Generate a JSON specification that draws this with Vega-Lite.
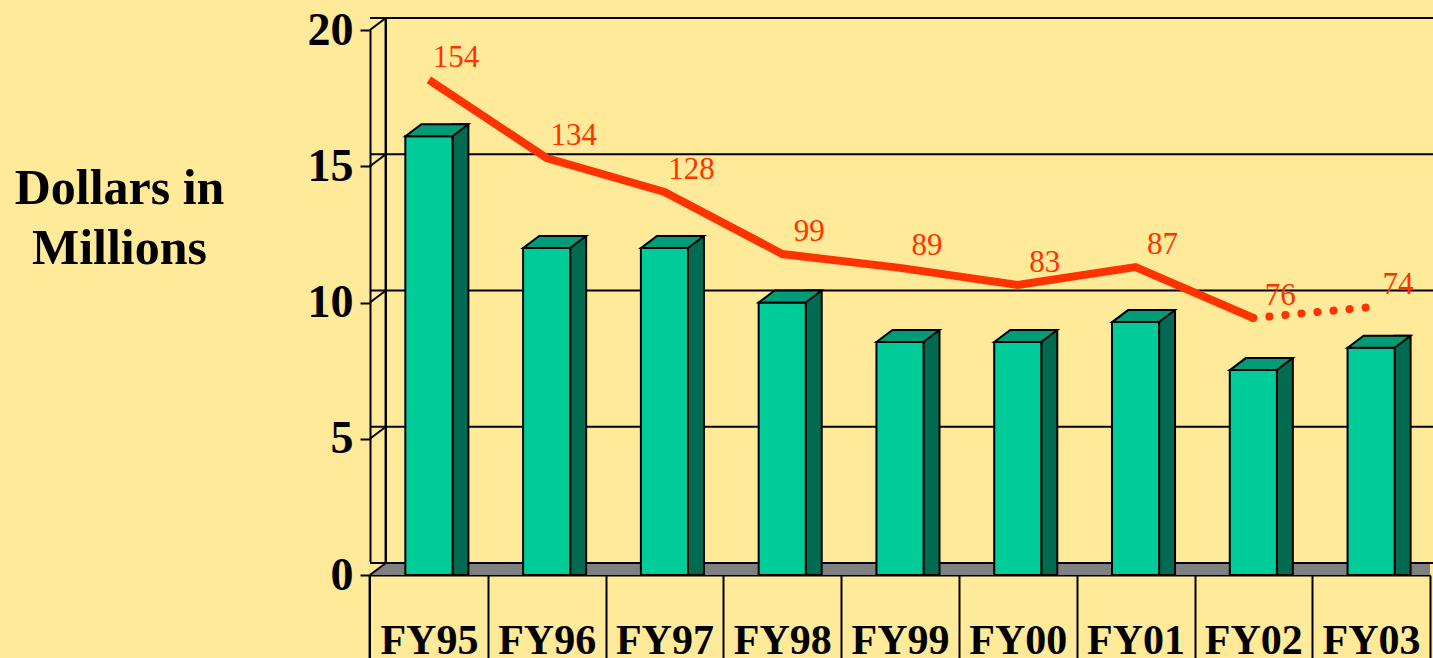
{
  "$schema": "https://vega.github.io/schema/vega-lite/v6.json",
  "width": 1060,
  "height": 545,
  "autosize": {"type": "none"},
  "padding": {"left": 370, "top": 30, "right": 3, "bottom": 83},
  "background": "#FFEA99",
  "config": {"view": {"stroke": null}, "font": "Liberation Serif"},
  "datasets": {
    "fy": [
      {"year": "FY95", "cost": 16.1, "line": 18.17, "label": "154"},
      {"year": "FY96", "cost": 12.0, "line": 15.3, "label": "134"},
      {"year": "FY97", "cost": 12.0, "line": 14.06, "label": "128"},
      {"year": "FY98", "cost": 10.0, "line": 11.78, "label": "99"},
      {"year": "FY99", "cost": 8.55, "line": 11.27, "label": "89"},
      {"year": "FY00", "cost": 8.55, "line": 10.64, "label": "83"},
      {"year": "FY01", "cost": 9.28, "line": 11.3, "label": "87"},
      {"year": "FY02", "cost": 7.52, "line": 9.43, "label": "76"},
      {"year": "FY03", "cost": 8.34, "line": 9.83, "label": "74"}
    ],
    "ticks": [{"v": 0}, {"v": 5}, {"v": 10}, {"v": 15}, {"v": 20}]
  },
  "layer": [
    {
      "data": {"name": "fy"},
      "mark": {"type": "bar", "fill": "#00CC99", "opacity": 0},
      "encoding": {
        "x": {
          "field": "year",
          "type": "nominal",
          "scale": {"domain": ["FY95", "FY96", "FY97", "FY98", "FY99", "FY00", "FY01", "FY02", "FY03"], "paddingInner": 0.6, "paddingOuter": 0.3},
          "axis": {
            "orient": "bottom",
            "title": null,
            "labelAngle": 0,
            "labelFont": "Liberation Serif",
            "labelFontSize": 42,
            "labelFontWeight": "bold",
            "labelColor": "black",
            "labelBaseline": "alphabetic",
            "labelPadding": -5,
            "labelOverlap": false,
            "labelBound": false,
            "labelFlush": false,
            "tickOffset": 59,
            "labelOffset": -59,
            "tickSize": 83,
            "tickColor": "black",
            "tickWidth": 2,
            "domainColor": "black",
            "domainWidth": 2
          }
        },
        "y": {
          "field": "cost",
          "type": "quantitative",
          "scale": {"domain": [0, 20], "nice": false, "zero": true},
          "axis": {
            "values": [0, 5, 10, 15, 20],
            "grid": false,
            "labelFont": "Liberation Serif",
            "labelFontSize": 46,
            "labelFontWeight": "bold",
            "labelColor": "black",
            "labelPadding": 7,
            "tickSize": 10,
            "tickColor": "black",
            "tickWidth": 2,
            "domainColor": "black",
            "domainWidth": 2,
            "title": ["Dollars in", "Millions"],
            "titleAngle": 0,
            "titleFont": "Liberation Serif",
            "titleFontSize": 50,
            "titleFontWeight": "bold",
            "titleColor": "black",
            "titleAlign": "center",
            "titleBaseline": "alphabetic",
            "titleX": -251,
            "titleY": 173,
            "titleLineHeight": 60
          }
        },
        "y2": {"datum": 0}
      }
    },
    {
      "data": {"name": "ticks"},
      "mark": {"type": "rule", "color": "#808080", "strokeWidth": 12, "yOffset": -6, "x2Offset": 3},
      "encoding": {
        "y": {"datum": 0, "type": "quantitative"}
      }
    },
    {
      "data": {"name": "ticks"},
      "mark": {"type": "point", "shape": "M0,0L16,-12L-1,-13Z", "size": 4, "filled": true, "fill": "#FFEA99", "strokeWidth": 0, "opacity": 1, "xOffset": -59},
      "encoding": {
        "x": {"datum": "FY95", "type": "nominal"},
        "y": {"datum": 0, "type": "quantitative"}
      }
    },
    {
      "data": {"name": "ticks"},
      "mark": {"type": "rule", "color": "black", "strokeWidth": 2, "xOffset": 16, "x2Offset": 16, "yOffset": -12},
      "encoding": {
        "y": {"field": "v", "type": "quantitative"}
      }
    },
    {
      "data": {"name": "ticks"},
      "mark": {"type": "rule", "color": "black", "strokeWidth": 2, "xOffset": -43, "yOffset": -12, "y2Offset": -12},
      "encoding": {
        "x": {"datum": "FY95", "type": "nominal"},
        "y": {"datum": 20, "type": "quantitative"},
        "y2": {"datum": 0}
      }
    },
    {
      "data": {"name": "ticks"},
      "mark": {"type": "rule", "color": "black", "strokeWidth": 2, "xOffset": -59, "y2Offset": 83},
      "encoding": {
        "x": {"datum": "FY95", "type": "nominal"},
        "y": {"datum": 0, "type": "quantitative"},
        "y2": {"datum": 0}
      }
    },
    {
      "data": {"name": "ticks"},
      "mark": {"type": "point", "shape": "M0,0L16,-12", "size": 4, "filled": false, "stroke": "black", "strokeWidth": 2, "opacity": 1, "xOffset": -59},
      "encoding": {
        "x": {"datum": "FY95", "type": "nominal"},
        "y": {"field": "v", "type": "quantitative"}
      }
    },
    {
      "data": {"name": "fy"},
      "mark": {"type": "bar", "width": 16, "xOffset": 31.5, "yOffset": -12, "fill": "#006B50", "stroke": "black", "strokeWidth": 2},
      "encoding": {
        "x": {"field": "year", "type": "nominal"},
        "y": {"field": "cost", "type": "quantitative"},
        "y2": {"datum": 0}
      }
    },
    {
      "data": {"name": "fy"},
      "mark": {"type": "bar", "fill": "#00CC99", "stroke": "black", "strokeWidth": 2},
      "encoding": {
        "x": {"field": "year", "type": "nominal"},
        "y": {"field": "cost", "type": "quantitative"},
        "y2": {"datum": 0}
      }
    },
    {
      "data": {"name": "fy"},
      "mark": {"type": "point", "shape": "M-23.5,0L-7.5,-12L39.5,-12L23.5,0Z", "size": 4, "filled": true, "fill": "#009B77", "stroke": "black", "strokeWidth": 2, "opacity": 1},
      "encoding": {
        "x": {"field": "year", "type": "nominal"},
        "y": {"field": "cost", "type": "quantitative"}
      }
    },
    {
      "data": {"name": "fy"},
      "transform": [{"filter": "datum.year != 'FY03'"}],
      "mark": {"type": "line", "color": "#FF3300", "strokeWidth": 8},
      "encoding": {
        "x": {"field": "year", "type": "nominal"},
        "y": {"field": "line", "type": "quantitative"}
      }
    },
    {
      "data": {"name": "fy"},
      "transform": [{"filter": "datum.year == 'FY02' || datum.year == 'FY03'"}],
      "mark": {"type": "line", "color": "#FF3300", "strokeWidth": 8, "strokeDash": [0.1, 16], "strokeCap": "round"},
      "encoding": {
        "x": {"field": "year", "type": "nominal"},
        "y": {"field": "line", "type": "quantitative"}
      }
    },
    {
      "data": {"name": "fy"},
      "mark": {"type": "text", "color": "#FF3300", "font": "Liberation Serif", "fontSize": 31, "dx": 27, "dy": -22},
      "encoding": {
        "x": {"field": "year", "type": "nominal"},
        "y": {"field": "line", "type": "quantitative"},
        "text": {"field": "label"}
      }
    }
  ]
}
